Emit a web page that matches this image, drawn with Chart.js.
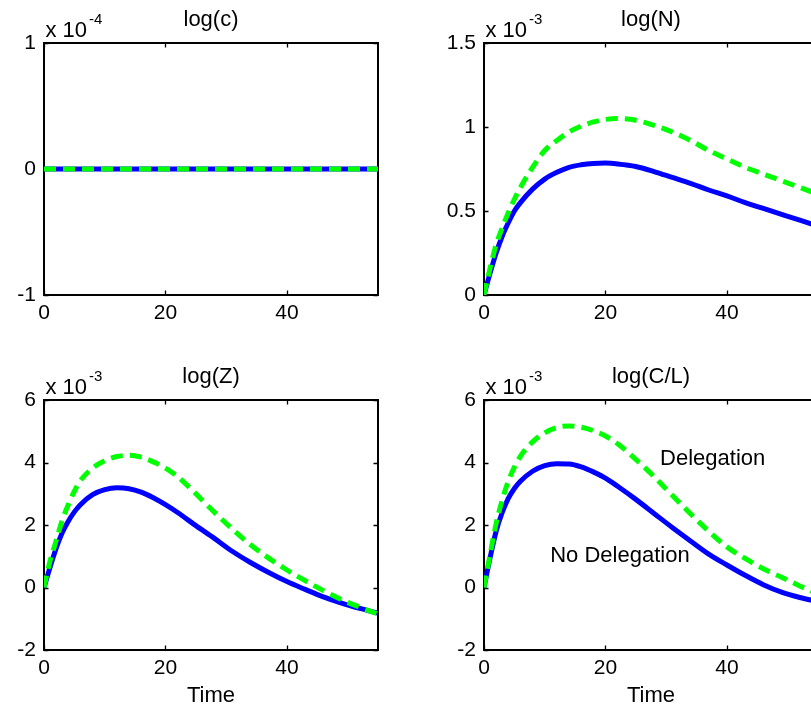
<!DOCTYPE html>
<html>
<head>
<meta charset="utf-8">
<script src="https://cdn.jsdelivr.net/npm/chart.js@4/dist/chart.umd.min.js"></script>
<style>
  html, body { margin: 0; padding: 0; background: #fff; }
  #fig { position: relative; width: 811px; height: 711px; overflow: hidden; background: #fff; }
  #fig canvas { position: absolute; }
</style>
</head>
<body>
<div id="fig">
  <canvas id="pC"  width="400" height="355" style="left:0;top:0"></canvas>
  <canvas id="pN"  width="400" height="355" style="left:440px;top:0"></canvas>
  <canvas id="pZ"  width="400" height="355" style="left:0;top:356px"></canvas>
  <canvas id="pCL" width="400" height="355" style="left:440px;top:356px"></canvas>
</div>
<script>
// Impulse responses, time in periods; values in units of the exponent shown above each axis.
const time = [0, 1, 2, 3, 4, 5, 6, 8, 10, 12, 14, 16, 18, 20, 22, 25, 28, 31, 34, 37, 40, 43, 46, 49, 52, 55];

// log(c), x 10^-4
const logC_noDeleg = [0, 0, 0, 0, 0, 0, 0, 0, 0, 0, 0, 0, 0, 0, 0, 0, 0, 0, 0, 0, 0, 0, 0, 0, 0, 0];
const logC_deleg   = [0, 0, 0, 0, 0, 0, 0, 0, 0, 0, 0, 0, 0, 0, 0, 0, 0, 0, 0, 0, 0, 0, 0, 0, 0, 0];

// log(N), x 10^-3
const logN_noDeleg = [0, 0.13, 0.25, 0.35, 0.43, 0.50, 0.55, 0.63, 0.69, 0.73, 0.76, 0.775, 0.783, 0.785, 0.78,
                      0.765, 0.735, 0.70, 0.665, 0.625, 0.59, 0.55, 0.515, 0.48, 0.445, 0.41];
const logN_deleg   = [0, 0.16, 0.30, 0.40, 0.49, 0.57, 0.64, 0.76, 0.86, 0.92, 0.97, 1.005, 1.03, 1.045, 1.05,
                      1.04, 1.01, 0.97, 0.92, 0.86, 0.81, 0.76, 0.72, 0.68, 0.64, 0.60];

// log(Z), x 10^-3
const logZ_noDeleg = [0, 0.65, 1.25, 1.75, 2.12, 2.42, 2.65, 2.97, 3.13, 3.19, 3.16, 3.05, 2.87, 2.65, 2.4,
                      1.98, 1.58, 1.16, 0.8, 0.48, 0.19, -0.06, -0.3, -0.5, -0.67, -0.82];
const logZ_deleg   = [0, 0.85, 1.5, 2.15, 2.65, 3.08, 3.42, 3.82, 4.06, 4.19, 4.23, 4.17, 4.02, 3.82, 3.55,
                      3.0, 2.42, 1.87, 1.37, 0.94, 0.56, 0.22, -0.1, -0.39, -0.63, -0.85];

// log(C/L), x 10^-3
const logCL_noDeleg = [0, 0.95, 1.8, 2.4, 2.85, 3.17, 3.4, 3.72, 3.9, 3.96, 3.95, 3.86, 3.7, 3.5, 3.24,
                       2.82, 2.37, 1.92, 1.49, 1.07, 0.72, 0.39, 0.09, -0.15, -0.32, -0.45];
const logCL_deleg   = [0, 1.05, 2.05, 2.8, 3.4, 3.85, 4.2, 4.66, 4.95, 5.12, 5.17, 5.13, 5.02, 4.85, 4.6,
                       4.1, 3.55, 2.95, 2.36, 1.8, 1.3, 0.93, 0.6, 0.33, 0.05, -0.2];

// Tick labels
const timeTicks = [0, 20, 40];
const ticksC  = [-1, 0, 1];
const ticksN  = [0, 0.5, 1, 1.5];
const ticksZ  = [-2, 0, 2, 4, 6];

const FONT = "'Liberation Sans', Arial, Helvetica, sans-serif";
const TICK_LEN = 4.5;
Chart.defaults.font.family = FONT;
Chart.defaults.font.size = 21;
Chart.defaults.color = '#000';

// Boxed axes with inward ticks, a title, the exponent label and free text notes.
const matlabFrame = {
  id: 'matlabFrame',
  beforeDatasetsDraw(chart) {
    const { ctx, chartArea: a } = chart;
    const xs = chart.scales.x, ys = chart.scales.y;
    ctx.save();
    ctx.strokeStyle = '#000';
    ctx.lineWidth = 2;
    ctx.strokeRect(a.left, a.top, a.right - a.left, a.bottom - a.top);
    ctx.lineWidth = 1.3;
    ctx.beginPath();
    xs.ticks.forEach(t => {
      const px = Math.round(xs.getPixelForValue(t.value)) + 0.5;
      ctx.moveTo(px, a.bottom); ctx.lineTo(px, a.bottom - TICK_LEN);
      ctx.moveTo(px, a.top);    ctx.lineTo(px, a.top + TICK_LEN);
    });
    ys.ticks.forEach(t => {
      const py = Math.round(ys.getPixelForValue(t.value)) + 0.5;
      ctx.moveTo(a.left, py);  ctx.lineTo(a.left + TICK_LEN, py);
      ctx.moveTo(a.right, py); ctx.lineTo(a.right - TICK_LEN, py);
    });
    ctx.stroke();
    ctx.restore();
  },
  afterDraw(chart, args, o) {
    const { ctx, chartArea: a } = chart;
    ctx.save();
    ctx.fillStyle = '#000';
    ctx.textBaseline = 'alphabetic';
    ctx.font = '22px ' + FONT;
    ctx.textAlign = 'center';
    ctx.fillText(o.title, (a.left + a.right) / 2, a.top - 17.5);
    if (o.xLabel) ctx.fillText(o.xLabel, (a.left + a.right) / 2, a.bottom + 52);
    ctx.textAlign = 'left';
    const base = 'x 10';
    ctx.fillText(base, a.left + 1.5, a.top - 6.5);
    const w = ctx.measureText(base).width;
    ctx.font = '15px ' + FONT;
    ctx.fillText(o.exponent, a.left + 1.5 + w + 2, a.top - 19.5);
    ctx.font = '22px ' + FONT;
    (o.notes || []).forEach(n => {
      ctx.fillText(n.text, chart.scales.x.getPixelForValue(n.t), chart.scales.y.getPixelForValue(n.v));
    });
    ctx.restore();
  }
};

function panel(id, cfg) {
  const pts = arr => time.map((t, i) => ({ x: t, y: arr[i] }));
  return new Chart(document.getElementById(id), {
    type: 'line',
    data: {
      datasets: [
        { label: 'No Delegation', data: pts(cfg.noDeleg), borderColor: '#0000ff', borderWidth: 5,
          pointRadius: 0, cubicInterpolationMode: 'monotone', borderCapStyle: 'butt', order: 2 },
        { label: 'Delegation', data: pts(cfg.deleg), borderColor: '#00ff00', borderWidth: 5,
          borderDash: [12, 7], pointRadius: 0, cubicInterpolationMode: 'monotone', borderCapStyle: 'butt', order: 1 }
      ]
    },
    options: {
      responsive: false,
      animation: false,
      events: [],
      layout: { padding: { left: 0, right: 22, top: cfg.padTop, bottom: 0 } },
      plugins: {
        legend: { display: false },
        tooltip: { enabled: false },
        matlabFrame: { title: cfg.title, exponent: cfg.exponent, xLabel: cfg.xLabel, notes: cfg.notes }
      },
      scales: {
        x: {
          type: 'linear', min: 0, max: 55,
          grid: { display: false, drawTicks: false },
          border: { display: false },
          ticks: { padding: 6, maxRotation: 0, autoSkip: false, callback: v => String(v) },
          afterBuildTicks: s => { s.ticks = timeTicks.map(v => ({ value: v })); },
          afterFit: s => { s.height = cfg.xHeight; }
        },
        y: {
          type: 'linear', min: cfg.yTicks[0], max: cfg.yTicks[cfg.yTicks.length - 1],
          grid: { display: false, drawTicks: false },
          border: { display: false },
          ticks: { padding: 8, autoSkip: false, callback: v => String(v) },
          afterBuildTicks: s => { s.ticks = cfg.yTicks.map(v => ({ value: v })); },
          afterFit: s => { s.width = 44; }
        }
      }
    },
    plugins: [matlabFrame]
  });
}

panel('pC',  { title: 'log(c)', exponent: '-4', yTicks: ticksC, noDeleg: logC_noDeleg, deleg: logC_deleg,
               padTop: 43, xHeight: 60 });
panel('pN',  { title: 'log(N)', exponent: '-3', yTicks: ticksN, noDeleg: logN_noDeleg, deleg: logN_deleg,
               padTop: 43, xHeight: 60 });
panel('pZ',  { title: 'log(Z)', exponent: '-3', yTicks: ticksZ, noDeleg: logZ_noDeleg, deleg: logZ_deleg,
               padTop: 44, xHeight: 61, xLabel: 'Time' });
panel('pCL', { title: 'log(C/L)', exponent: '-3', yTicks: ticksZ, noDeleg: logCL_noDeleg, deleg: logCL_deleg,
               padTop: 44, xHeight: 61, xLabel: 'Time',
               notes: [{ text: 'Delegation', t: 29.0, v: 3.93 }, { text: 'No Delegation', t: 10.9, v: 0.83 }] });
</script>
</body>
</html>
